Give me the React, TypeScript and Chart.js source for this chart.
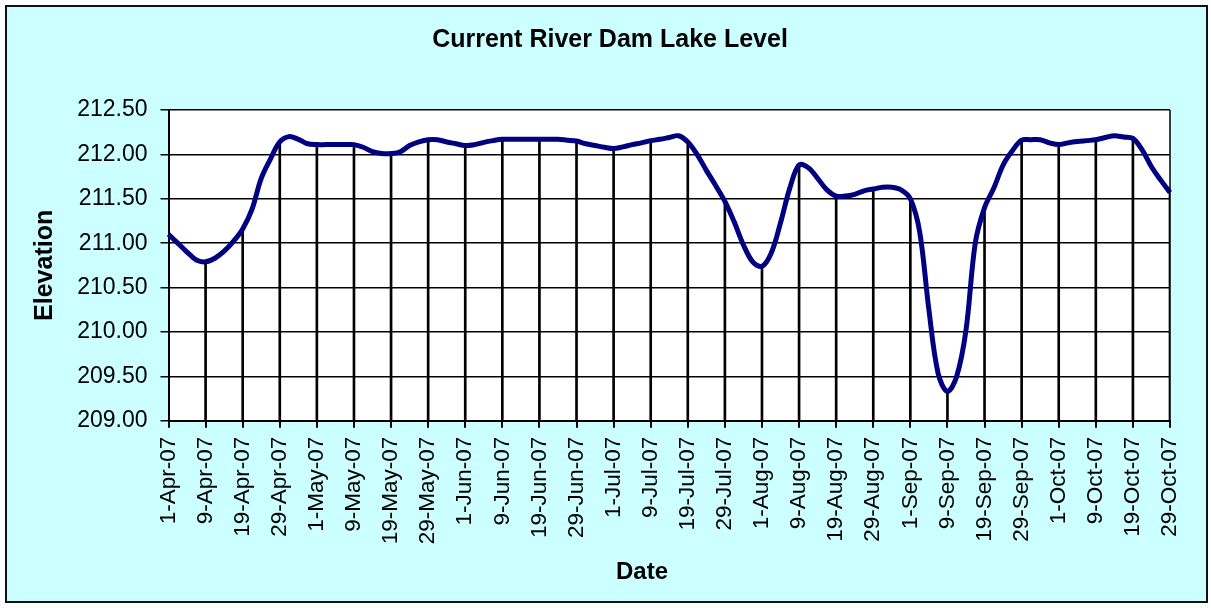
import React, { useEffect, useRef } from 'react';
import { Chart, registerables } from 'chart.js';

Chart.register(...registerables);

const tickLabels = [
  '1-Apr-07', '9-Apr-07', '19-Apr-07', '29-Apr-07',
  '1-May-07', '9-May-07', '19-May-07', '29-May-07',
  '1-Jun-07', '9-Jun-07', '19-Jun-07', '29-Jun-07',
  '1-Jul-07', '9-Jul-07', '19-Jul-07', '29-Jul-07',
  '1-Aug-07', '9-Aug-07', '19-Aug-07', '29-Aug-07',
  '1-Sep-07', '9-Sep-07', '19-Sep-07', '29-Sep-07',
  '1-Oct-07', '9-Oct-07', '19-Oct-07', '29-Oct-07',
];

// readings between labelled dates (4 per label interval)
const STEP = 4;

const elevation = [
  211.10, 211.00, 210.90, 210.81,
  210.79, 210.83, 210.91, 211.02,
  211.16, 211.38, 211.73, 211.95,
  212.14, 212.20, 212.17, 212.12,
  212.11, 212.11, 212.11, 212.11,
  212.11, 212.08, 212.03, 212.01,
  212.01, 212.03, 212.10, 212.14,
  212.165, 212.165, 212.14, 212.12,
  212.10, 212.11, 212.135, 212.155,
  212.17, 212.17, 212.17, 212.17,
  212.17, 212.17, 212.17, 212.16,
  212.15, 212.12, 212.10, 212.08,
  212.065, 212.085, 212.11, 212.13,
  212.155, 212.17, 212.19, 212.21,
  212.14, 212.00, 211.82, 211.65,
  211.47, 211.24, 210.98, 210.79,
  210.74, 210.89, 211.23, 211.62,
  211.88, 211.85, 211.73, 211.60,
  211.53, 211.53, 211.55, 211.59,
  211.61, 211.63, 211.63, 211.60,
  211.50, 211.13, 210.25, 209.53,
  209.33, 209.50, 210.02, 211.00,
  211.40, 211.62, 211.88, 212.04,
  212.16, 212.165, 212.165, 212.13,
  212.11, 212.13, 212.145, 212.155,
  212.165, 212.19, 212.21, 212.195,
  212.18, 212.05, 211.86, 211.71,
  211.57,
];

const yMin = 209;
const yMax = 212.5;
const yStep = 0.5;

const chartTitle = 'Current River Dam Lake Level';
const xTitle = 'Date';
const yTitle = 'Elevation';

const FONT = '"Liberation Sans", Arial, sans-serif';

export default function App() {
  const ref = useRef<HTMLCanvasElement | null>(null);

  useEffect(() => {
    if (!ref.current) return;
    Chart.defaults.font.family = FONT;
    Chart.defaults.color = '#000';

    const categories = elevation.map((_, i) => (i % STEP === 0 ? tickLabels[i / STEP] : ''));
    const drops = elevation.map((v, i) => (i % STEP === 0 ? v : null));

    const plotFrame = {
      id: 'plotFrame',
      beforeDraw(chart: any) {
        const { ctx, chartArea: a } = chart;
        ctx.save();
        ctx.fillStyle = '#ffffff';
        ctx.fillRect(a.left, a.top, a.right - a.left, a.bottom - a.top);
        ctx.restore();
      },
      afterDraw(chart: any) {
        const { ctx, chartArea: a } = chart;
        ctx.save();
        ctx.strokeStyle = '#000';
        ctx.lineWidth = 1.5;
        ctx.beginPath();
        ctx.moveTo(a.right, a.top);
        ctx.lineTo(a.right, a.bottom);
        ctx.stroke();
        ctx.fillStyle = '#000';
        ctx.textAlign = 'center';
        ctx.textBaseline = 'middle';
        ctx.font = `bold 25px ${FONT}`;
        ctx.fillText(chartTitle, 603, 33);
        ctx.font = `bold 24px ${FONT}`;
        ctx.fillText(xTitle, 635, 565);
        ctx.restore();
      },
    };

    const chart = new Chart(ref.current, {
      type: 'line',
      data: {
        labels: categories,
        datasets: [
          {
            type: 'line',
            data: elevation,
            borderColor: '#000080',
            borderWidth: 5,
            pointRadius: 0,
            tension: 0.35,
            fill: false,
            order: 0,
          } as any,
          {
            type: 'bar',
            data: drops,
            backgroundColor: '#000',
            borderWidth: 0,
            barThickness: 2,
            order: 1,
          } as any,
        ],
      },
      options: {
        responsive: false,
        animation: false,
        events: [],
        layout: { padding: { left: 0, right: 33.5, top: 103, bottom: 0 } },
        plugins: {
          legend: { display: false },
          tooltip: { enabled: false },
          title: { display: false },
        },
        scales: {
          x: {
            type: 'category',
            offset: false,
            grid: {
              offset: false,
              drawOnChartArea: false,
              drawTicks: true,
              tickLength: 7,
              lineWidth: 2,
              color: (c: any) => (c.index % STEP === 0 ? '#000' : 'rgba(0,0,0,0)'),
            },
            border: { display: true, color: '#000', width: 2 },
            ticks: {
              autoSkip: false,
              maxRotation: 90,
              minRotation: 90,
              padding: 9,
              color: '#000',
              font: { size: 22.5, family: FONT },
              callback: (_v: any, i: number) => categories[i],
            },
            afterFit: (s: any) => {
              s.height = 180.3;
            },
          },
          y: {
            type: 'linear',
            min: yMin,
            max: yMax,
            ticks: {
              stepSize: yStep,
              padding: 13,
              color: '#000',
              font: { size: 23, family: FONT },
              callback: (v: any) => Number(v).toFixed(2),
            },
            grid: { color: '#000', lineWidth: 1.5, tickLength: 8 },
            border: { display: true, color: '#000', width: 2 },
            title: {
              display: true,
              text: yTitle,
              color: '#000',
              font: { size: 25, weight: 'bold', family: FONT },
              padding: { top: 23, bottom: 0 },
            },
            afterFit: (s: any) => {
              s.width = 161.5;
            },
          },
        },
      } as any,
      plugins: [plotFrame],
    });
    return () => chart.destroy();
  }, []);

  return (
    <div
      style={{
        position: 'absolute',
        left: 5,
        top: 5,
        width: 1203,
        height: 598,
        boxSizing: 'border-box',
        border: '2px solid #111',
        background: '#ccffff',
      }}
    >
      <canvas ref={ref} width={1199} height={594} style={{ display: 'block', width: 1199, height: 594 }} />
    </div>
  );
}
